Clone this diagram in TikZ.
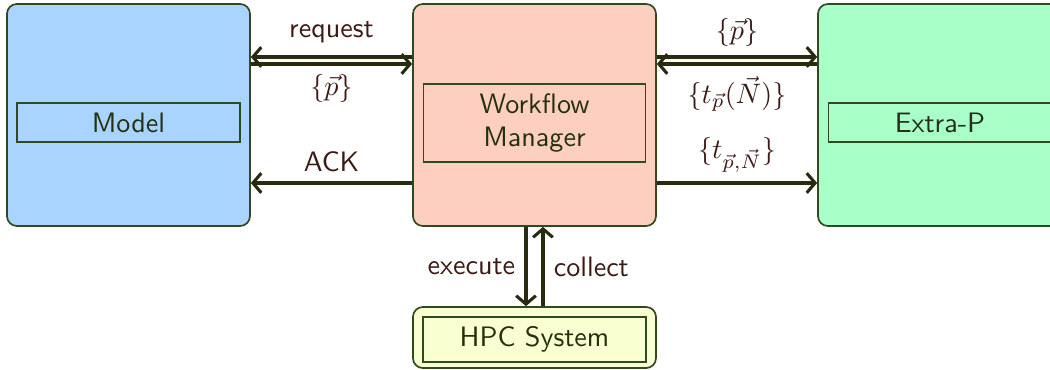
\documentclass[tikz,border=0pt]{standalone}
\usepackage{tikz}
\usetikzlibrary{arrows.meta}

\definecolor{modelblue}{HTML}{A8D4FF}
\definecolor{wmred}{HTML}{FDCFC0}
\definecolor{xpgreen}{HTML}{A8FFC8}
\definecolor{hpcyellow}{HTML}{FAFFD2}
\definecolor{boxedge}{HTML}{2F4A1F}
\definecolor{flowcol}{HTML}{2A2A10}
\definecolor{lblcol}{HTML}{3C1A14}
\definecolor{boxtext}{HTML}{24300F}

\tikzset{
    outerbox/.style={draw=boxedge, semithick, rounded corners=3.5pt,
        minimum width=3.0375cm, minimum height=2.775cm, inner sep=0pt},
    innerbox/.style={draw=boxedge, semithick, text=boxtext, font=\sffamily,
        minimum width=2.79cm, minimum height=0.49cm, inner sep=0pt, align=center},
    flow/.style={draw=flowcol, line width=1.1pt,
        -{Straight Barb[length=3pt,width=7pt]}},
    lbl/.style={text=lblcol, font=\sffamily, inner sep=1pt}
}

\begin{document}
\begin{tikzpicture}
    \useasboundingbox (0, 0) rectangle (13.125, -4.625);
    \begin{scope}
        % boxes
        \node[outerbox, fill=modelblue] (model) at (1.606, -1.4375) {};
        \node[outerbox, fill=wmred] (wm) at (6.681, -1.4375) {};
        \node[outerbox, fill=xpgreen] (extrap) at (11.744, -1.4375) {};
        \node[outerbox, fill=hpcyellow, minimum height=0.7625cm] (hpc)
            at (6.681, -4.219) {};
        % labels inside
        \node[innerbox] (modelin) at (1.606, -1.531) {Model};
        \node[innerbox, minimum width=2.775cm, minimum height=0.975cm] (wmin)
            at (6.681, -1.5375) {Workflow\\Manager};
        \node[innerbox] (extrapin) at (11.75, -1.531) {Extra-P};
        \node[innerbox, minimum height=0.5625cm] (hpcin) at (6.681, -4.244)
            {HPC System};
    \end{scope}

    % model <-> workflow manager
    \draw[flow] ([yshift=0.725cm]wm.west) -- ([yshift=0.725cm]model.east)
        node[midway, above=3.3pt, lbl] {request};
    \draw[flow] ([yshift=0.6375cm]model.east) -- ([yshift=0.6375cm]wm.west)
        node[midway, below=2.3pt, lbl] {$\{\vec{p}\}$};
    \draw[flow] ([yshift=-0.85cm]wm.west) -- ([yshift=-0.85cm]model.east)
        node[midway, above=2.3pt, lbl] {ACK};

    % workflow manager <-> extra-p
    \draw[flow] ([yshift=0.725cm]wm.east) -- ([yshift=0.725cm]extrap.west)
        node[midway, above=2.3pt, lbl] {$\{\vec{p}\}$};
    \draw[flow] ([yshift=0.6375cm]extrap.west) -- ([yshift=0.6375cm]wm.east)
        node[midway, below=2.8pt, lbl] {$\{t_{\vec{p}}(\vec{N})\}$};
    \draw[flow] ([yshift=-0.85cm]wm.east) -- ([yshift=-0.85cm]extrap.west)
        node[midway, above=2.3pt, lbl] {$\{t_{\vec{p},\vec{N}}\}$};

    % workflow manager <-> hpc
    \draw[flow] ([xshift=-0.106cm]wm.south) -- ([xshift=-0.106cm]hpc.north)
        node[midway, left=2.3pt, lbl] {execute};
    \draw[flow] ([xshift=0.106cm]hpc.north) -- ([xshift=0.106cm]wm.south)
        node[midway, right=2.3pt, lbl] {collect};
\end{tikzpicture}
\end{document}
